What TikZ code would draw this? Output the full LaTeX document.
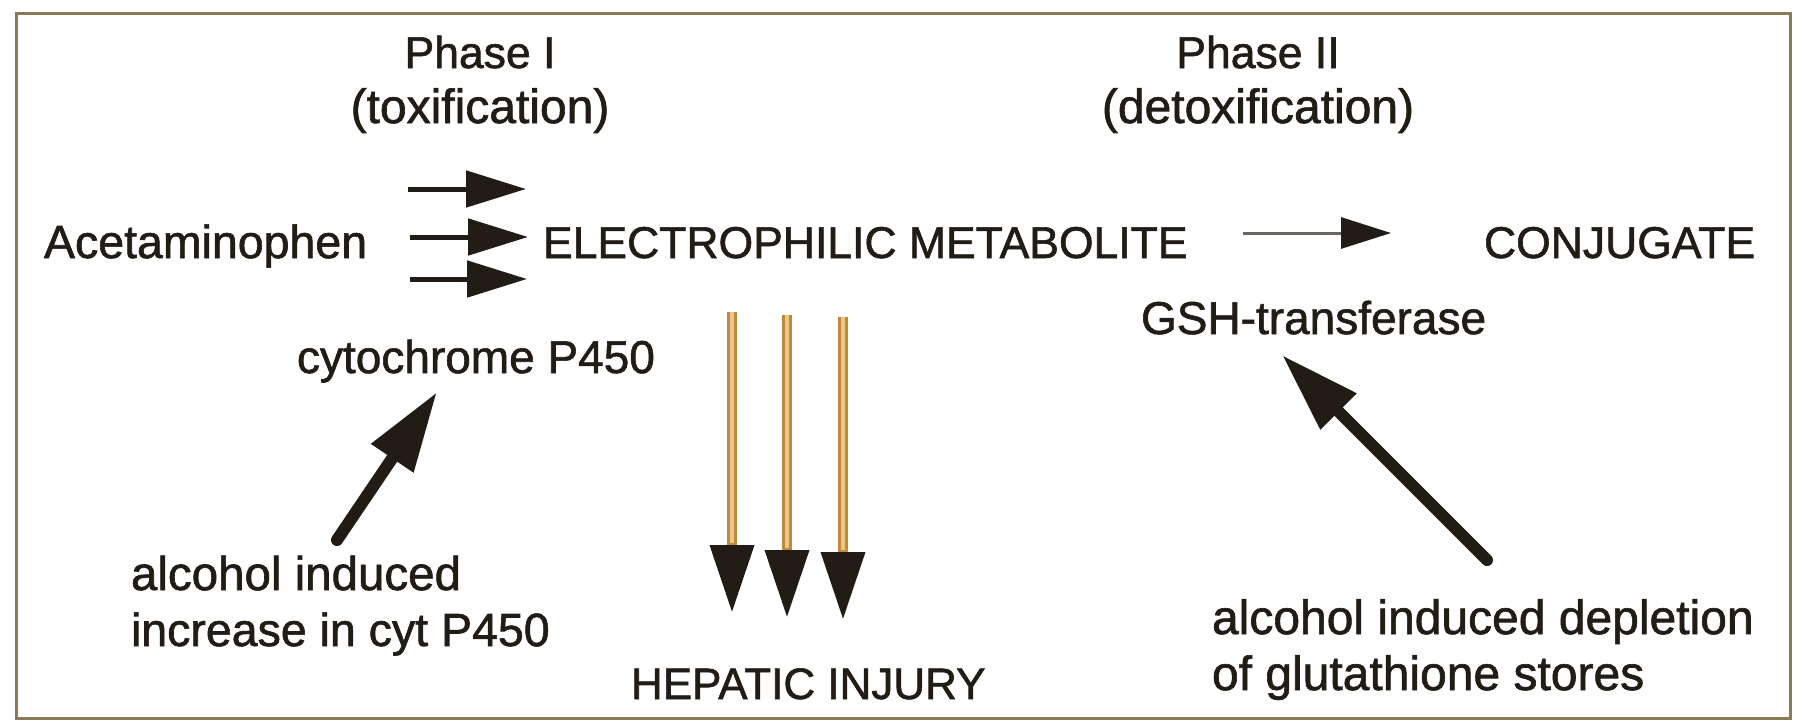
\documentclass[tikz,border=0pt]{standalone}
\usepackage{fontspec}
\setmainfont[FakeBold=1.3]{Liberation Sans}
\usetikzlibrary{arrows.meta}
\definecolor{ink}{HTML}{221C16}
\definecolor{frame}{HTML}{8C7B58}
\definecolor{goldedge}{HTML}{C08A3C}
\definecolor{goldlight}{HTML}{EBC685}
\definecolor{thinline}{HTML}{6A6660}
\newcommand{\fs}[1]{\fontsize{#1}{#1}\selectfont}
\tikzset{
  lbl/.style={inner sep=0pt, outer sep=0pt, text=ink},
  triarrow/.style={draw=ink, line width=5pt, -{Triangle[length=60pt,width=36pt,color=ink]}},
  bigarrow/.style={draw=ink, line width=12pt, -{Triangle[length=80pt,width=48pt,color=ink]}},
  thinarrow/.style={draw=thinline, line width=3pt, -{Triangle[length=50pt,width=31pt,color=ink]}},
  goldarrow/.style={draw=goldedge, line width=10pt, -{Triangle[length=68pt,width=42pt,color=ink]}},
  goldcore/.style={draw=goldlight, line width=4.5pt, shorten >=70pt}
}
\begin{document}
\begin{tikzpicture}[x=1pt,y=-1pt]
\useasboundingbox (0,0) rectangle (1799,723);
\fill[white] (0,0) rectangle (1799,723);
\draw[frame, line width=3pt] (16,13) rectangle (1790,718);

% titles
\node[lbl, anchor=base, font=\fs{44.5}] (ph1) at (480,68) {Phase I};
\node[lbl, anchor=base, font=\fs{48}] (tox) at (480,123) {(toxification)};
\node[lbl, anchor=base, font=\fs{44.5}] (ph2) at (1258,68) {Phase II};
\node[lbl, anchor=base, font=\fs{48}] (detox) at (1258,123) {(detoxification)};

% main row
\node[lbl, anchor=base west, font=\fs{46.5}] (acet) at (44,258) {Acetaminophen};
\node[lbl, anchor=base west, font=\fs{44.5}] (elec) at (543,258) {ELECTROPHILIC METABOLITE};
\node[lbl, anchor=base west, font=\fs{44.5}] (conj) at (1484,258) {CONJUGATE};

% enzymes
\node[lbl, anchor=base west, font=\fs{46}] (gsh) at (1141,334) {GSH-transferase};
\node[lbl, anchor=base west, font=\fs{46}] (cyp) at (297,373) {cytochrome P450};

% lower labels
\node[lbl, anchor=base west, font=\fs{47.5}] (alcA) at (131,590) {alcohol induced};
\node[lbl, anchor=base west, font=\fs{46.5}] (alcB) at (131,646) {increase in cyt P450};
\node[lbl, anchor=base west, font=\fs{44}] (hep) at (631,699) {HEPATIC INJURY};
\node[lbl, anchor=base west, font=\fs{48}] (depA) at (1212,634) {alcohol induced depletion};
\node[lbl, anchor=base west, font=\fs{48}] (depB) at (1212,690) {of glutathione stores};

% coordinates for arrows
\coordinate (t1s) at (408,189); \coordinate (t1e) at (526,189);
\coordinate (t2s) at (410,237); \coordinate (t2e) at (528,237);
\coordinate (t3s) at (410,279); \coordinate (t3e) at (527,279);
\coordinate (cs) at (1243,233); \coordinate (ce) at (1391,233);
\coordinate (v1s) at (732,312); \coordinate (v1e) at (732,613);
\coordinate (v2s) at (787,315); \coordinate (v2e) at (787,618);
\coordinate (v3s) at (843,317); \coordinate (v3e) at (843,620);
\coordinate (ls) at (337,540); \coordinate (le) at (437,392);
\coordinate (rs) at (1487,560); \coordinate (re) at (1282,355);

\draw[triarrow] (t1s) -- (t1e);
\draw[triarrow] (t2s) -- (t2e);
\draw[triarrow] (t3s) -- (t3e);
\draw[thinarrow] (cs) -- (ce);

\foreach \a in {1,2,3}{
  \draw[goldarrow] (v\a s) -- (v\a e);
  \draw[goldcore] (v\a s) -- (v\a e);
}

\draw[bigarrow, line cap=round] (ls) -- (le);
\draw[bigarrow, line cap=round] (rs) -- (re);
\end{tikzpicture}
\end{document}
